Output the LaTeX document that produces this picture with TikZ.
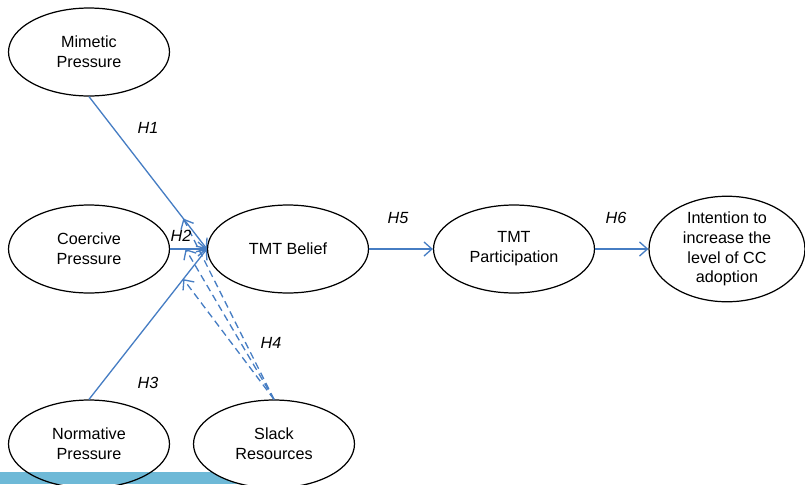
\documentclass[tikz,border=0pt]{standalone}
\usepackage{fontspec}
\setmainfont{Liberation Sans}
\usepackage{tikz}
\usetikzlibrary{positioning, calc, arrows.meta, shapes.geometric}

\definecolor{arrowblue}{RGB}{70,125,195}
\definecolor{barblue}{RGB}{110,185,215}

\begin{document}
\begin{tikzpicture}[x=0.02cm, y=-0.02cm,
    construct/.style={draw, ellipse, line width=0.7pt, minimum width=3.22cm, minimum height=1.76cm,
      inner sep=0pt, align=center, font=\fontsize{9.2}{11.3}\selectfont},
    hyp/.style={font=\fontsize{9.2}{11}\selectfont\itshape},
    link/.style={draw=arrowblue, line width=0.75pt, -{Straight Barb[length=4.5pt, width=8pt]}},
    modlink/.style={link, dashed, dash pattern=on 4pt off 2.5pt}]
      \useasboundingbox (0,0) rectangle (805,484);

      % 下の帯
      \fill[barblue] (0,472) rectangle (265,484);

      % 構成概念
      \node[construct] (mim) at (89,52) {Mimetic\\Pressure};
      \node[construct] (coe) at (89,249) {Coercive\\Pressure};
      \node[construct] (norm) at (89,444) {Normative\\Pressure};
      \node[construct, fill=white] (slack) at (274,444) {Slack\\Resources};
      \node[construct] (belief) at (288,249) {TMT Belief};
      \node[construct] (part) at (514,249) {TMT\\Participation};
      \node[construct, minimum width=3.12cm] (intent) at (727,249) {Intention to\\increase the\\level of CC\\adoption};

      % 矢印
      \draw[link] (mim.south) -- (belief.west);
      \draw[link] (coe.east) -- (belief.west);
      \draw[link] (norm.north) -- (belief.west);
      \draw[link] (belief.east) -- (part.west);
      \draw[link] (part.east) -- (intent.west);

      % 調整効果
      \coordinate (m1) at ($(mim.south)!0.8!(belief.west)$);
      \coordinate (m2) at ($(coe.east)!0.42!(belief.west)$);
      \coordinate (m3) at ($(norm.north)!0.8!(belief.west)$);
      \draw[modlink] (slack.north) -- (m1);
      \draw[modlink] (slack.north) -- (m2);
      \draw[modlink] (slack.north) -- (m3);

      % ラベル
      \node[hyp] (h1) at (148,128) {H1};
      \node[hyp] (h2) at (181,236) {H2};
      \node[hyp] (h3) at (148,383) {H3};
      \node[hyp] (h4) at (271,343) {H4};
      \node[hyp] (h5) at (398,218) {H5};
      \node[hyp] (h6) at (616,218) {H6};
  \end{tikzpicture}
\end{document}
